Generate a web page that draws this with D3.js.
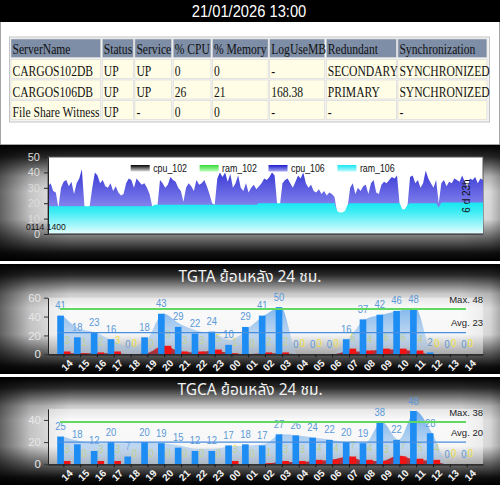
<!DOCTYPE html>
<html>
<head>
<meta charset="utf-8">
<script src="https://cdn.jsdelivr.net/npm/d3@7"></script>
<style>
  html, body { margin: 0; padding: 0; background: #fff; overflow: hidden; }
  svg { display: block; }
</style>
</head>
<body>
<svg id="page" width="500" height="485"></svg>
<script>
// ---------- data ----------
const stamp = "21/01/2026 13:00";

const headers = ["ServerName", "Status", "Service", "% CPU", "% Memory", "LogUseMB", "Redundant", "Synchronization"];
const servers = ["CARGOS102DB", "CARGOS106DB", "File Share Witness"];
const status = ["UP", "UP", "UP"];
const service = ["UP", "UP", "-"];
const cpuPct = ["0", "26", "0"];
const memPct = ["0", "21", "0"];
const logUse = ["-", "168.38", "-"];
const redundant = ["SECONDARY", "PRIMARY", "-"];
const sync = ["SYNCHRONIZED", "SYNCHRONIZED", "-"];

const seriesNames = ["cpu_102", "ram_102", "cpu_106", "ram_106"];
const cpuTicks = [0, 10, 20, 30, 40, 50];
const startLabel = "0114 1400";
const spanLabel = "6 d 23h";
const cpu106 = [
  31, 33, 28, 27, 17, 30, 34, 35, 31, 34,
  26, 33, 36, 42, 18, 17, 18, 30, 40, 38,
  33, 35, 31, 30, 33, 28, 31, 27, 25, 26,
  33, 36, 35, 30, 36, 34, 32, 33, 30, 26,
  18, 17, 18, 35, 33, 30, 32, 37, 35, 34,
  30, 28, 21, 30, 33, 31, 28, 35, 32, 33,
  35, 31, 26, 20, 19, 36, 40, 37, 40, 34,
  39, 30, 33, 38, 30, 28, 33, 27, 30, 32,
  29, 31, 33, 36, 35, 37, 40, 38, 19, 18,
  33, 35, 36, 33, 30, 34, 38, 36, 40, 33,
  30, 32, 28, 27, 29, 26, 28, 25, 27, 26,
  24, 14, 13, 13, 14, 17, 30, 33, 26, 30,
  28, 31, 32, 26, 33, 35, 27, 26, 32, 34,
  33, 35, 37, 36, 38, 19, 15, 15, 18, 37,
  38, 33, 35, 30, 33, 41, 36, 33, 30, 35,
  20, 33, 35, 31, 34, 33, 36, 35, 34, 38,
  34, 30, 36, 35, 37, 33, 36, 35
];
const ram106 = [
  18, 18, 18, 18, 18, 18, 18, 18, 18, 18,
  18, 18, 18, 18, 18, 18, 18, 18, 18, 18,
  18, 18, 18, 18, 18, 18, 18, 18, 18, 18,
  18, 18, 18, 18, 18, 18, 18, 18, 18, 18,
  18, 19, 19, 19, 19, 19, 19, 19, 19, 19,
  19, 19, 19, 19, 19, 19, 19, 19, 19, 19,
  19, 19, 19, 19, 19, 19, 19, 19, 19, 19,
  19, 19, 19, 19, 19, 19, 19, 19, 19, 19,
  19, 20, 20, 20, 20, 20, 20, 20, 20, 20,
  20, 20, 20, 20, 20, 20, 20, 20, 20, 20,
  20, 20, 20, 20, 20, 20, 20, 20, 20, 20,
  20, 15, 14, 14, 15, 19, 20, 20, 20, 20,
  20, 20, 20, 20, 20, 20, 20, 20, 20, 20,
  20, 20, 20, 20, 20, 20, 16, 16, 19, 20,
  20, 20, 20, 20, 20, 20, 20, 20, 20, 20,
  17, 20.5, 20.5, 20.5, 20.5, 20.5, 20.5, 20.5, 20.5, 20.5,
  20.5, 20.5, 20.5, 20.5, 20.5, 20.5, 20.5, 20.5
];

const hours = ["14", "15", "16", "17", "18", "19", "20", "21", "22", "23", "00", "01", "02",
               "03", "04", "05", "06", "07", "08", "09", "10", "11", "12", "13", "14"];

const tgtaTitle = "TGTA ย้อนหลัง 24 ชม.";
const tgtaTicks = [0, 20, 40, 60];
const tgtaCount = [41, 18, 23, 16, 0, 18, 43, 29, 22, 24, 10, 29, 41, 50, 0, 0, 0, 16, 37, 42, 46, 48, 2, 0, 0];
const tgtaDelay = [3, 1, 2, 3, 0, 0, 9, 3, 3, 5, 1, 0, 2, 2, 0, 0, 0, 6, 4, 6, 6, 4, 0, 0, 0];
const tgtaTrend = [41, 27, 23, 14, 8, 15, 43, 32, 25, 22, 15, 27, 41, 50, 0, 0, 0, 16, 37, 42, 46, 49, 2, 0, 0];
const tgtaDelayTrend = [1, 1, 1, 1, 0, 1, 9, 3, 2, 4, 1, 0, 1, 1, 0, 0, 0, 3, 3, 5, 5, 3, 0, 0, 0];
const tgtaMax = 48, tgtaAvg = 23;

const tgcaTitle = "TGCA ย้อนหลัง 24 ชม.";
const tgcaTicks = [0, 20, 40];
const tgcaCount = [25, 18, 12, 20, 7, 20, 19, 15, 12, 12, 17, 18, 17, 27, 26, 24, 22, 20, 19, 38, 22, 48, 28, 0, 0];
const tgcaDelay = [3, 0, 3, 3, 0, 0, 0, 0, 0, 0, 3, 0, 1, 3, 3, 4, 4, 7, 4, 3, 7, 5, 4, 0, 0];
const tgcaTrend = [25, 21, 19, 19, 19, 20, 19, 17, 14, 14, 16, 17, 18, 27, 26, 24, 22, 20, 19, 38, 22, 48, 28, 0, 0];
const tgcaDelayTrend = [0, 0, 0, 0, 0, 0, 0, 0, 0, 0, 0, 0, 0, 2, 2, 3, 4, 7, 3, 3, 8, 4, 3, 0, 0];
const tgcaMax = 38, tgcaAvg = 20;

// ---------- helpers ----------
const sans = "'Liberation Sans', Arial, sans-serif";
const thai = "'Noto Sans Thai', 'Liberation Sans', Arial, 'Noto Sans', sans-serif";
const serif = "'Liberation Serif', 'Times New Roman', serif";

const svg = d3.select("#page");
const defs = svg.append("defs");

function grad(id, stops, opts) {
  const g = defs.append("linearGradient").attr("id", id)
    .attr("x1", 0).attr("y1", 0).attr("x2", 0).attr("y2", 1);
  if (opts) Object.entries(opts).forEach(([k, v]) => g.attr(k, v));
  stops.forEach(s => g.append("stop").attr("offset", s[0])
    .attr("stop-color", s[1]).attr("stop-opacity", s[2] == null ? 1 : s[2]));
  return "url(#" + id + ")";
}

// text with a horizontal squeeze (the source image is a bit narrow)
function label(g, x, y, str, size, sx, anchor, fill, family) {
  return g.append("text")
    .attr("transform", `translate(${x},${y}) scale(${sx},1)`)
    .attr("text-anchor", anchor)
    .attr("font-size", size)
    .attr("font-family", family || sans)
    .attr("fill", fill)
    .text(str);
}

const bgFill = grad("bgV", [[0, "#000"], [0.1, "#2a2a2a"], [0.27, "#c8c8c8"], [0.4, "#f6f6f6"],
  [0.64, "#f0f0f0"], [0.8, "#707070"], [0.93, "#111"], [1, "#000"]]);
const edgeFill = grad("bgH", [[0, "#000", 0.6], [0.06, "#000", 0.2], [0.14, "#000", 0],
  [0.92, "#000", 0], [0.98, "#000", 0.12], [1, "#000", 0.3]], { x2: 1, y2: 0 });

function panel(top, h) {
  svg.append("rect").attr("x", 0).attr("y", top).attr("width", 500).attr("height", h).attr("fill", bgFill);
  svg.append("rect").attr("x", 0).attr("y", top).attr("width", 500).attr("height", h).attr("fill", edgeFill);
}

// ---------- header + table ----------
svg.append("rect").attr("x", 0).attr("y", 0).attr("width", 500).attr("height", 145).attr("fill", "#fff")
  .attr("stroke", "#888").attr("stroke-width", 1.5);
svg.append("rect").attr("x", 0).attr("y", 0).attr("width", 500).attr("height", 22).attr("fill", "#000");
label(svg, 249, 17.3, stamp, 16, 0.92, "middle", "#fff");

const colW = [89.7, 31, 36.7, 37.7, 55.6, 55, 70, 89];
const colX = [];
colW.reduce((x, w) => { colX.push(x); return x + w + 1.6; }, 11);
const rowTop = [39, 59.5, 80, 100.5];
const rowH = [18.5, 19, 19, 19];

const table = svg.append("g");
table.append("rect").attr("x", 9.5).attr("y", 37).attr("width", 480).attr("height", 85)
  .attr("fill", "#f3f3f3").attr("stroke", "#c4c4c4");
const rows = [headers].concat(servers.map((s, i) =>
  [s, status[i], service[i], cpuPct[i], memPct[i], logUse[i], redundant[i], sync[i]]));
rows.forEach((cells, r) => {
  cells.forEach((c, k) => {
    table.append("rect").attr("x", colX[k]).attr("y", rowTop[r]).attr("width", colW[k]).attr("height", rowH[r])
      .attr("fill", r === 0 ? "#7e8ea7" : "#fffde5").attr("stroke", "#d6d6d6").attr("stroke-width", 0.6);
    label(table, colX[k] + 1.5, rowTop[r] + (r === 0 ? 15.3 : 16.5), c, 14.5, 0.8, "start", "#111", serif);
  });
});

// ---------- resource chart ----------
panel(145, 116);
const rc = { x0: 48, x1: 483, y0: 234, y1: 157 };
const xT = d3.scaleLinear().domain([0, cpu106.length - 1]).range([rc.x0, rc.x1]);
const yT = d3.scaleLinear().domain([0, 50]).range([rc.y0, rc.y1]);

svg.append("rect").attr("x", rc.x0).attr("y", rc.y1).attr("width", rc.x1 - rc.x0).attr("height", rc.y0 - rc.y1)
  .attr("fill", "#fff").attr("stroke", "#555");

const cpuFill = grad("gCpu", [[0, "#1c1ccc"], [0.7, "#8c8cf0"], [1, "#ffffff"]],
  { gradientUnits: "userSpaceOnUse", y1: rc.y1, y2: rc.y0, x1: 0, x2: 0 });
const ramFill = grad("gRam", [[0, "#14e6f0"], [0.3, "#3cecf4"], [1, "#e6fdff"]],
  { gradientUnits: "userSpaceOnUse", y1: yT(21), y2: rc.y0, x1: 0, x2: 0 });

const areaT = d3.area().x((d, i) => xT(i)).y0(yT(0)).y1(d => yT(d));
svg.append("path").datum(cpu106).attr("d", areaT).attr("fill", cpuFill);
svg.append("path").datum(ram106).attr("d", areaT).attr("fill", ramFill);

const axT = svg.append("g").attr("transform", `translate(${rc.x0},0)`)
  .call(d3.axisLeft(yT).tickValues(cpuTicks).tickSize(4).tickSizeOuter(0));
axT.select(".domain").attr("stroke", "#222");
axT.selectAll(".tick line").attr("stroke", "#222");
axT.selectAll(".tick text").attr("fill", "#dcdcdc").attr("font-size", 11).attr("font-family", sans).attr("dx", -1);
svg.append("line").attr("x1", rc.x0).attr("x2", rc.x1).attr("y1", rc.y0).attr("y2", rc.y0).attr("stroke", "#222");

const swatch = [
  grad("sw0", [[0, "#000"], [1, "#ddd"]]),
  grad("sw1", [[0, "#3ad83a"], [1, "#b8ffb8"]]),
  grad("sw2", [[0, "#1c1ccc"], [1, "#a8a8f4"]]),
  grad("sw3", [[0, "#18e6f0"], [1, "#b8faff"]])
];
const legX = d3.scaleLinear().domain([0, 1]).range([130.7, 199.6]);
seriesNames.forEach((n, i) => {
  svg.append("rect").attr("x", legX(i)).attr("y", 165).attr("width", 19).attr("height", 6.5).attr("fill", swatch[i]);
  label(svg, legX(i) + 22.5, 171.5, n, 11, 0.8, "start", "#111");
});
label(svg, 26, 229.5, startLabel, 9, 0.95, "start", "#111");
svg.append("text").attr("transform", "translate(470,196) rotate(-90)").attr("text-anchor", "middle")
  .attr("font-size", 10).attr("font-family", sans).attr("fill", "#111").text(spanLabel);

// ---------- hourly bar charts ----------
function hourly(cfg) {
  panel(cfg.top, cfg.h);
  const g = svg.append("g");
  const x = d3.scaleBand().domain(d3.range(hours.length)).range([48, 483]).paddingInner(0.21).paddingOuter(0.55);
  const sub = d3.scaleBand().domain([0, 1]).range([0, x.bandwidth()]);
  const y = d3.scaleLinear().domain([0, cfg.yMax]).range(cfg.yRange);
  const cx0 = i => x(i) + sub(0) + sub.bandwidth() / 2;
  const cx1 = i => x(i) + sub(1) + sub.bandwidth() / 2;

  // title
  label(g, 250, cfg.top + 18, cfg.title, 15.5, 1, "middle", "#f2f2f2", thai);

  // soft plot background
  g.append("rect").attr("x", 48).attr("y", y(cfg.yMax)).attr("width", 435).attr("height", y(0) - y(cfg.yMax))
    .attr("fill", "#fff").attr("opacity", 0.45);

  // value labels (under the trend area, like the source)
  g.selectAll(".lc").data(cfg.count).join("text")
    .attr("transform", (d, i) => `translate(${cx0(i)},${y(d) - 6.5}) scale(0.9,1)`)
    .attr("text-anchor", "middle").attr("font-size", 10.5).attr("font-family", sans)
    .attr("fill", "#5a98d8").text(d => d);
  g.selectAll(".ld").data(cfg.delay).join("text")
    .attr("transform", (d, i) => `translate(${cx1(i)},${y(d) - 7.5}) scale(0.9,1)`)
    .attr("text-anchor", "middle").attr("font-size", 10.5).attr("font-family", sans)
    .attr("fill", "#ebe03a").text(d => d);

  // trend areas
  const blueFill = grad(cfg.id + "bA", [[0, "#4a9aea", 0.85], [1, "#a8c8ec", 0.35]],
    { gradientUnits: "userSpaceOnUse", x1: 0, x2: 0, y1: y(cfg.yMax), y2: y(0) });
  const redFill = grad(cfg.id + "rA", [[0, "#ff1010", 0.9], [1, "#900010", 0.7]],
    { gradientUnits: "userSpaceOnUse", x1: 0, x2: 0, y1: y(9), y2: y(0) });
  const ar = d3.area().curve(d3.curveMonotoneX).x((d, i) => cx0(i) + 2).y0(y(0)).y1(d => y(d));
  g.append("path").datum(cfg.trend).attr("d", ar).attr("fill", blueFill);
  g.append("path").datum(cfg.delayTrend).attr("d", ar).attr("fill", redFill);

  // bars
  g.selectAll(".bc").data(cfg.count).join("rect")
    .attr("x", (d, i) => x(i) + sub(0)).attr("width", sub.bandwidth())
    .attr("y", d => y(d)).attr("height", d => y(0) - y(d)).attr("fill", "#1d8cf3");
  g.selectAll(".bd").data(cfg.delay).join("rect")
    .attr("x", (d, i) => x(i) + sub(1)).attr("width", sub.bandwidth())
    .attr("y", d => y(d)).attr("height", d => y(0) - y(d)).attr("fill", "#f01414");

  // max / avg lines
  g.append("line").attr("x1", 60).attr("x2", 466).attr("y1", y(cfg.max)).attr("y2", y(cfg.max))
    .attr("stroke", "#62d862").attr("stroke-width", 2);
  g.append("line").attr("x1", 58).attr("x2", 466).attr("y1", y(cfg.avg)).attr("y2", y(cfg.avg))
    .attr("stroke", "#4a8ede").attr("stroke-width", 1.4);
  label(g, 483, y(cfg.max) - 6.5, "Max. " + cfg.max, 9.5, 1, "end", "#222");
  label(g, 483, y(cfg.avg) - 6.5, "Avg. " + cfg.avg, 9.5, 1, "end", "#222");

  // axes
  const ay = g.append("g").attr("transform", "translate(48,0)")
    .call(d3.axisLeft(y).tickValues(cfg.ticks).tickSize(4).tickSizeOuter(0));
  ay.select(".domain").attr("stroke", "#222");
  ay.selectAll(".tick line").attr("stroke", "#333");
  ay.selectAll(".tick text").attr("fill", "#e6e6e6").attr("font-size", 11.5).attr("font-family", sans);

  const ax = g.append("g").attr("transform", `translate(0,${y(0)})`)
    .call(d3.axisBottom(x).tickSize(3).tickSizeOuter(0).tickFormat(i => hours[i]));
  ax.select(".domain").attr("stroke", "#1a1a1a").attr("stroke-width", 1.3);
  ax.selectAll(".tick line").attr("stroke", "#1a1a1a");
  ax.selectAll(".tick text").attr("fill", "#f4f4f4").attr("font-size", 10).attr("font-family", sans)
    .attr("font-weight", "bold").attr("text-anchor", "end")
    .attr("transform", "translate(1,1) rotate(-45)").attr("dy", "0.6em").attr("y", 6);
}

hourly({ id: "ta", top: 264, h: 110, title: tgtaTitle, yMax: 60, yRange: [354.3, 297.7], ticks: tgtaTicks,
  count: tgtaCount, delay: tgtaDelay, trend: tgtaTrend, delayTrend: tgtaDelayTrend, max: tgtaMax, avg: tgtaAvg });
hourly({ id: "ca", top: 377, h: 108, title: tgcaTitle, yMax: 50, yRange: [464.3, 408.8], ticks: tgcaTicks,
  count: tgcaCount, delay: tgcaDelay, trend: tgcaTrend, delayTrend: tgcaDelayTrend, max: tgcaMax, avg: tgcaAvg });

// white separators between the panels
svg.append("rect").attr("x", 0).attr("y", 261).attr("width", 500).attr("height", 3).attr("fill", "#fff");
svg.append("rect").attr("x", 0).attr("y", 374).attr("width", 500).attr("height", 3).attr("fill", "#fff");
</script>
</body>
</html>
